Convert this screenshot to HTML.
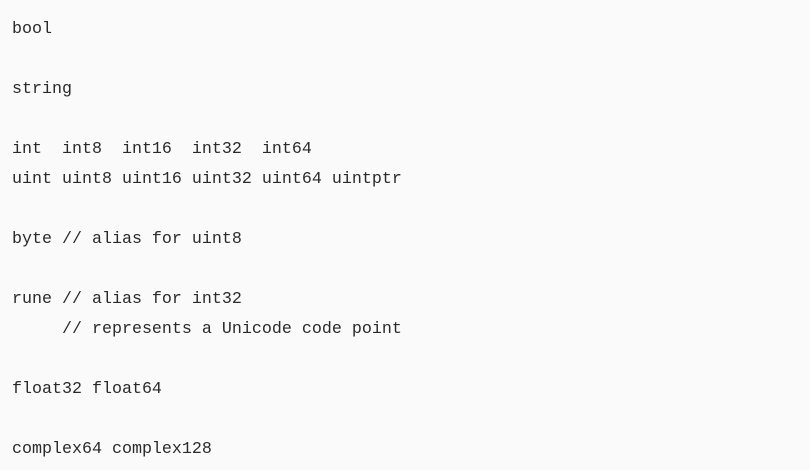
<!DOCTYPE html>
<html><head><style>
html,body{margin:0;padding:0;background:#fafafa;width:810px;height:470px;overflow:hidden}
pre{margin:0;position:absolute;left:12px;top:15px;font-family:"Liberation Mono",monospace;font-size:16.67px;line-height:30px;color:#2a2a2a}
</style></head><body>
<pre>bool

string

int  int8  int16  int32  int64
uint uint8 uint16 uint32 uint64 uintptr

byte // alias for uint8

rune // alias for int32
     // represents a Unicode code point

float32 float64

complex64 complex128</pre>
</body></html>
